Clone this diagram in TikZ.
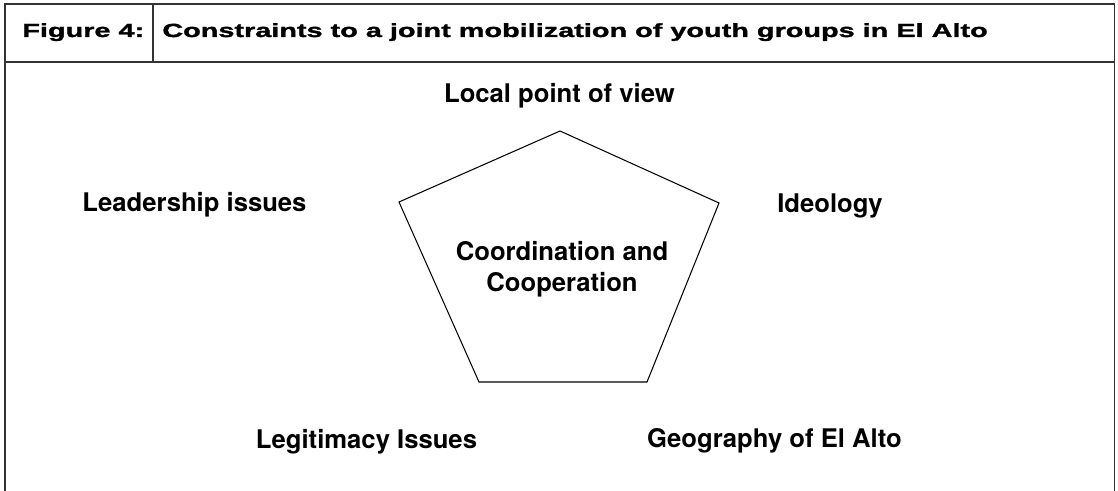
\documentclass[tikz,border=0pt]{standalone}
\usepackage{fontspec}
\setmainfont{TeX Gyre Heros}
\newfontfamily\headfont[FakeStretch=1.52,FakeBold=1.6]{Liberation Sans Bold}
\usepackage{xcolor}
\usepackage{tikz}

\tikzset{
  frame/.style={draw=black!80, line width=1.1pt},
  head/.style={anchor=base west, inner sep=0pt, font=\headfont\fontsize{10.8}{12}\selectfont},
  lbl/.style={anchor=base, inner sep=0pt, font=\bfseries\fontsize{14.6}{18.2}\selectfont},
}

\begin{document}
\begin{tikzpicture}
  \useasboundingbox (0,0) rectangle (22.36,-9.82);
  \draw[frame] (0.10,-9.82) -- (0.10,-0.08) -- (22.29,-0.08) -- (22.29,-9.82);
  \draw[frame] (0.10,-1.24) -- (22.29,-1.24);
  \draw[frame] (3.06,-0.08) -- (3.06,-1.24);
  \node[head] (fig) at (0.44,-0.74) {Figure 4:};
  \node[head] (title) at (3.24,-0.74) {Constraints to a joint mobilization of youth groups in El Alto};

  \coordinate (p1) at (11.20,-2.62);
  \coordinate (p2) at (14.38,-4.06);
  \coordinate (p3) at (12.94,-7.64);
  \coordinate (p4) at (9.58,-7.64);
  \coordinate (p5) at (7.98,-4.04);
  \draw[line width=0.6pt] (p1) -- (p2) -- (p3) -- (p4) -- (p5) -- cycle;
  \node[lbl, align=center] (core) at (11.24,-5.84) {Coordination and\\Cooperation};

  \node[lbl] (local) at (11.19,-2.06) {Local point of view};
  \node[lbl] (leader) at (3.89,-4.24) {Leadership issues};
  \node[lbl] (ideo) at (16.60,-4.26) {Ideology};
  \node[lbl] (legit) at (7.33,-8.96) {Legitimacy Issues};
  \node[lbl] (geo) at (15.49,-8.94) {Geography of El Alto};
\end{tikzpicture}
\end{document}
